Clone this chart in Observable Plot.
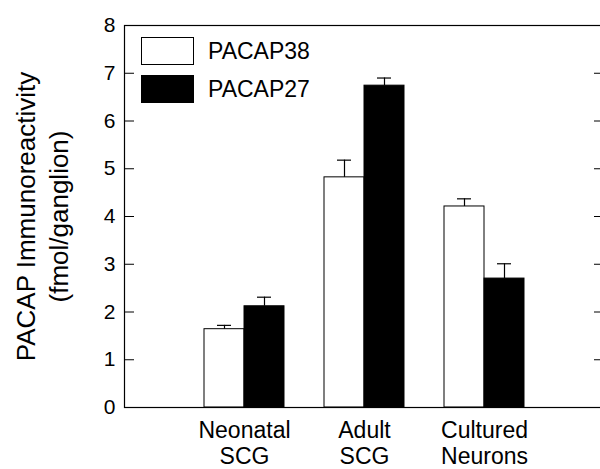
<!DOCTYPE html>
<html>
<head>
<meta charset="utf-8">
<script src="https://cdn.jsdelivr.net/npm/d3@7"></script>
<script src="https://cdn.jsdelivr.net/npm/@observablehq/plot@0.6"></script>
<style>
  html, body { margin: 0; padding: 0; background: white; overflow: hidden; }
  #wrap { position: relative; width: 600px; height: 469px; font-family: "Liberation Sans", Arial, sans-serif; }
  #legend { position: absolute; left: 141px; top: 37px; }
  .row { display: flex; align-items: center; height: 28px; margin-bottom: 10px; }
  .sw { box-sizing: border-box; width: 53px; height: 28px; border: 1px solid black; }
  .lab { margin-left: 14px; font-size: 23px; color: black; line-height: 28px; }
</style>
</head>
<body>
<div id="wrap"><div id="legend"></div></div>
<script>
// ---- data ----
const categories = ["Neonatal\nSCG", "Adult\nSCG", "Cultured\nNeurons"];
const seriesNames = ["PACAP38", "PACAP27"];
const seriesColors = ["white", "black"];
const pacap38 = [1.64, 4.82, 4.21];
const pacap38Err = [0.08, 0.36, 0.16];
const pacap27 = [2.12, 6.74, 2.70];
const pacap27Err = [0.19, 0.16, 0.31];
const yTicks = [0, 1, 2, 3, 4, 5, 6, 7, 8];
const yTitle = "PACAP Immunoreactivity\n(fmol/ganglion)";

const rows38 = categories.map((c, i) => ({category: c, series: seriesNames[0], value: pacap38[i], err: pacap38Err[i]}));
const rows27 = categories.map((c, i) => ({category: c, series: seriesNames[1], value: pacap27[i], err: pacap27Err[i]}));

const chart = Plot.plot({
  width: 600,
  height: 469,
  marginLeft: 124,
  marginRight: -4,
  marginTop: 25,
  marginBottom: 62,
  style: {fontFamily: "Liberation Sans, Arial, sans-serif", color: "black", background: "white", overflow: "hidden"},
  x: {domain: categories, range: [184, 544], padding: 0, label: null},
  y: {domain: [0, 8], label: null},
  marks: [
    Plot.barY(rows38, {x: "category", y: "value", fill: seriesColors[0], stroke: "black", strokeWidth: 1, insetLeft: 20, insetRight: 60}),
    Plot.barY(rows27, {x: "category", y: "value", fill: seriesColors[1], stroke: "black", strokeWidth: 1, insetLeft: 60, insetRight: 20}),
    Plot.ruleX(rows38, {x: "category", y1: "value", y2: d => d.value + d.err, dx: -20, stroke: "black", strokeWidth: 1.2}),
    Plot.ruleX(rows27, {x: "category", y1: "value", y2: d => d.value + d.err, dx: 20, stroke: "black", strokeWidth: 1.2}),
    Plot.tickY(rows38, {x: "category", y: d => d.value + d.err, insetLeft: 33, insetRight: 73, stroke: "black", strokeWidth: 1.2}),
    Plot.tickY(rows27, {x: "category", y: d => d.value + d.err, insetLeft: 73, insetRight: 33, stroke: "black", strokeWidth: 1.2}),
    Plot.ruleY(yTicks, {y: d => d, insetRight: 470, stroke: "black", strokeWidth: 1}),
    Plot.ruleY(yTicks, {y: d => d, insetLeft: 470, stroke: "black", strokeWidth: 1}),
    Plot.frame({stroke: "black", strokeWidth: 1.2}),
    Plot.axisY({ticks: yTicks, tickSize: 0, tickPadding: 9, fontSize: 21, label: null}),
    Plot.axisX({tickSize: 0, tickPadding: 13, fontSize: 23, lineHeight: 1.1, label: null, tickFormat: d => d}),
    Plot.text([yTitle], {text: d => d, frameAnchor: "left", textAnchor: "middle", rotate: -90, dx: -84, fontSize: 26, lineHeight: 1.27, fill: "black"})
  ]
});
document.getElementById("wrap").prepend(chart);

const legend = document.getElementById("legend");
seriesNames.forEach((name, i) => {
  const row = document.createElement("div");
  row.className = "row";
  const sw = document.createElement("div");
  sw.className = "sw";
  sw.style.background = seriesColors[i];
  const lab = document.createElement("span");
  lab.className = "lab";
  lab.textContent = name;
  row.appendChild(sw);
  row.appendChild(lab);
  legend.appendChild(row);
});
</script>
</body>
</html>
